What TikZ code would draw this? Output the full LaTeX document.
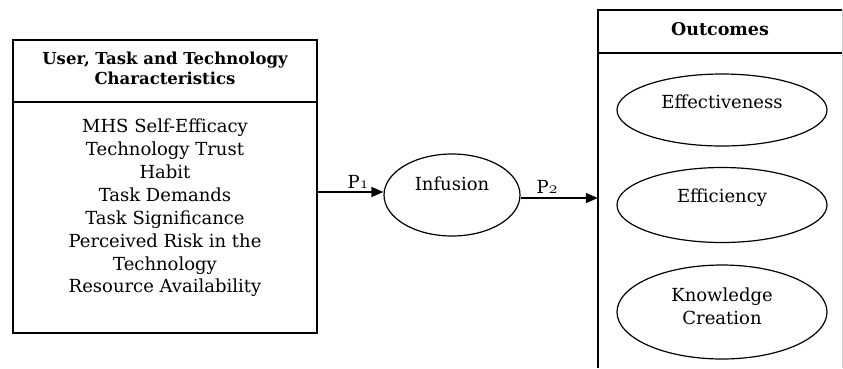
\documentclass[tikz,border=0pt]{standalone}
\usepackage{fontspec}
\setmainfont{DejaVu Serif}
\usetikzlibrary{arrows.meta,shapes.geometric}
\newcommand{\osn}[1]{{\usefont{OML}{cmm}{m}{it}#1}}
\begin{document}
\begin{tikzpicture}[x=1pt,y=-1pt,
  frame/.style={draw,line width=1.5pt,rectangle,inner sep=0pt},
  oval/.style={draw,line width=1.2pt,ellipse,inner sep=0pt},
  body/.style={font=\fontsize{18}{22.9}\selectfont,align=center,inner sep=0pt},
  head/.style={font=\fontsize{16.5}{20}\selectfont\bfseries,align=center,inner sep=0pt},
  arr/.style={line width=1.5pt,-{Triangle[length=12pt,width=10pt]}}]
\clip (0,0) rectangle (843,368);
\fill[white] (0,0) rectangle (843,368);
% left box
\node[frame,minimum width=304pt,minimum height=62pt] (lhead) at (165,71) {};
\node[frame,minimum width=304pt,minimum height=231pt] (lbody) at (165,217.5) {};
\node[head] (ltitle) at (165,68) {User, Task and Technology\\Characteristics};
\node[body] (ltext) at (165,208) {MHS Self-Efficacy\\Technology Trust\\Habit\\Task Demands\\Task Significance\\Perceived Risk in the\\Technology\\Resource Availability};
% infusion
\node[oval,minimum width=136pt,minimum height=82pt] (inf) at (452,195) {};
\node[body] (inftext) at (452,184) {Infusion};
% right box
\node[inner sep=0pt,minimum width=244pt,minimum height=43pt] (rhead) at (720,31.5) {};
\node[inner sep=0pt,minimum width=244pt,minimum height=315pt] (rbody) at (720,210.5) {};
\draw[line width=1.5pt] (rhead.north east) -- (rhead.north west) -- (rbody.south west);
\draw[line width=1.5pt] (rhead.south west) -- (rhead.south east);
\draw[black!20,line width=0.8pt] (rhead.north east) -- (rbody.south east);
\node[head,font=\fontsize{17.5}{20}\selectfont\bfseries] (otitle) at (720,29) {Outcomes};
\node[oval,minimum width=210pt,minimum height=72pt] (eff) at (722,110) {};
\node[body] (efftext) at (722,102) {Effectiveness};
\node[oval,minimum width=210pt,minimum height=75pt] (effic) at (722,205) {};
\node[body] (effictext) at (722,198) {Efficiency};
\node[oval,minimum width=210pt,minimum height=94pt] (know) at (722,312) {};
\node[body] (knowtext) at (722,306) {Knowledge\\Creation};
% arrows
\coordinate (a1) at ([yshift=3pt]inf.west);
\coordinate (a2) at ([yshift=-3pt]inf.east);
\draw[arr] (lbody.east |- a1) -- (a1);
\draw[arr] (a2) -- (rbody.west |- a2);
\node[body] (p1) at (358,182) {P\osn{1}};
\node[body] (p2) at (547,187) {P\osn{2}};
\end{tikzpicture}
\end{document}
